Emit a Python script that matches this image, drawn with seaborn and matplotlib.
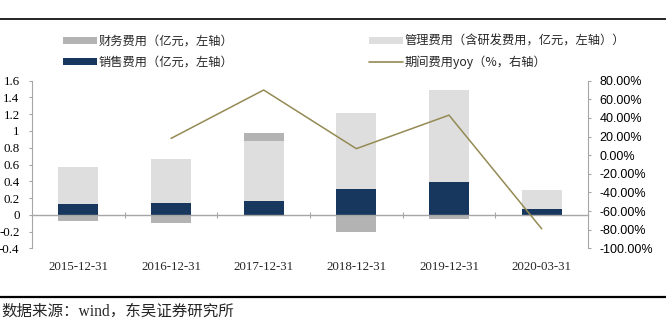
import numpy as np
import matplotlib
matplotlib.use('Agg')
import matplotlib.pyplot as plt
import seaborn as sns
from matplotlib.lines import Line2D
from matplotlib.patches import Patch
from matplotlib.ticker import FuncFormatter

# ---------------- data ----------------
categories = ['2015-12-31', '2016-12-31', '2017-12-31', '2018-12-31', '2019-12-31', '2020-03-31']
sales = [0.13, 0.14, 0.17, 0.31, 0.39, 0.065]          # 销售费用
admin = [0.44, 0.53, 0.71, 0.91, 1.10, 0.235]          # 管理费用（含研发）
finance = [-0.08, -0.10, 0.09, -0.20, -0.05, -0.02]    # 财务费用
yoy = [np.nan, 18.0, 70.0, 7.0, 43.0, -79.0]           # 期间费用yoy (%)
left_ticks = [-0.4, -0.2, 0.0, 0.2, 0.4, 0.6, 0.8, 1.0, 1.2, 1.4, 1.6]
right_ticks = [-100, -80, -60, -40, -20, 0, 20, 40, 60, 80]
legend_labels = ['财务费用（亿元，左轴）', '销售费用（亿元，左轴）',
                 '管理费用（含研发费用，亿元，左轴））', '期间费用yoy（%，右轴）']
source_text = '数据来源：wind，东吴证券研究所'

# ---------------- style ----------------
C_FIN = '#b3b3b3'
C_ADM = '#dedede'
C_SAL = '#17375e'
C_LINE = '#948a54'
C_AX = '#a6a6a6'

sns.set_style('white')
plt.rcParams['font.family'] = ['Liberation Serif', 'Noto Sans CJK SC', 'DejaVu Sans']

W, H = 666, 326
fig = plt.figure(figsize=(W / 100, H / 100), dpi=100)
ax = fig.add_axes([32 / W, (H - 248.3) / H, 556 / W, 167.6 / H])

sales_a = np.array(sales)
admin_a = np.array(admin)
fin_a = np.array(finance)
pos_top = sales_a + admin_a + np.clip(fin_a, 0, None)
neg_fin = np.clip(fin_a, None, 0)

bw = 0.43
kw = dict(width=bw, saturation=1, linewidth=0, ax=ax)
sns.barplot(x=categories, y=pos_top, color=C_FIN, **kw)
sns.barplot(x=categories, y=sales_a + admin_a, color=C_ADM, **kw)
sns.barplot(x=categories, y=sales_a, color=C_SAL, **kw)
sns.barplot(x=categories, y=neg_fin, color=C_FIN, **kw)

n = len(categories)
ax.set_xlim(-0.5, n - 0.5)
ax.set_ylim(-0.4, 1.6)
ax.set_yticks(left_ticks)
ax.yaxis.set_major_formatter(FuncFormatter(lambda v, p: f'{round(v, 1):g}'))
ax.tick_params(axis='y', which='both', left=True, length=2.5, width=0.8, color=C_AX,
               pad=6.5, labelsize=9.3, labelcolor='black')
for lab in ax.get_yticklabels():
    lab.set_family('Liberation Serif')

# zero line with category boundary ticks
ax.spines['bottom'].set_position(('data', 0))
ax.spines['bottom'].set_color(C_AX)
ax.spines['bottom'].set_linewidth(1.0)
ax.set_xticks(np.arange(n - 1) + 0.5)
ax.set_xticklabels([])
ax.tick_params(axis='x', bottom=True, direction='inout', length=5, width=0.8, color=C_AX)
ax.spines['left'].set_color(C_AX)
ax.spines['left'].set_linewidth(0.8)
ax.spines['top'].set_visible(False)
ax.spines['right'].set_visible(False)
ax.set_xlabel('')
ax.set_ylabel('')

sec = ax.secondary_xaxis('bottom')
sec.set_xticks(np.arange(n), labels=categories)
sec.tick_params(axis='x', length=0, pad=9, labelsize=9.3)
for lab in sec.get_xticklabels():
    lab.set_family('Liberation Serif')
sec.spines['bottom'].set_visible(False)

# right axis: yoy line
ax2 = ax.twinx()
sns.lineplot(x=np.arange(n), y=yoy, color=C_LINE, linewidth=1.1, ax=ax2)
ax2.set_xlim(-0.5, n - 0.5)
ax2.set_ylim(-100, 80)
ax2.set_yticks(right_ticks)
ax2.yaxis.set_major_formatter(FuncFormatter(lambda v, p: f'{v:.2f}%'))
ax2.tick_params(axis='y', right=True, length=2.5, width=0.8, color=C_AX, pad=6,
                labelsize=9, labelcolor='black')
for lab in ax2.get_yticklabels():
    lab.set_family('Liberation Sans')
for s in ['top', 'left', 'bottom']:
    ax2.spines[s].set_visible(False)
ax2.spines['right'].set_color(C_AX)
ax2.spines['right'].set_linewidth(0.8)
ax2.set_xlabel('')
ax2.set_ylabel('')

# legends
h_fin = Patch(facecolor=C_FIN, edgecolor='none')
h_sal = Patch(facecolor=C_SAL, edgecolor='none')
h_adm = Patch(facecolor=C_ADM, edgecolor='none')
h_line = Line2D([], [], color=C_LINE, linewidth=1.2)
leg_kw = dict(loc='upper left', frameon=False, handlelength=2.8, handleheight=0.5,
              handletextpad=0.1, labelspacing=0.68, borderpad=0, borderaxespad=0,
              prop={'family': ['Noto Sans CJK SC', 'DejaVu Sans'], 'size': 8.8})
leg1 = fig.legend(handles=[h_fin, h_sal], labels=legend_labels[:2],
                  bbox_to_anchor=(63 / W, 1 - 34.5 / H), **leg_kw)
leg2 = fig.legend(handles=[h_adm, h_line], labels=legend_labels[2:],
                  bbox_to_anchor=(369 / W, 1 - 34.5 / H), **leg_kw)

# header/footer rules and source
fig.add_artist(Line2D([0, 1], [1 - 19 / H] * 2, transform=fig.transFigure,
                      color='black', linewidth=1.2))
fig.add_artist(Line2D([0, 1], [1 - 297 / H] * 2, transform=fig.transFigure,
                      color='black', linewidth=1.6))
fig.text(1 / W, 1 - 312 / H, source_text, ha='left', va='center', fontsize=11.2,
         family=['Liberation Serif', 'Noto Sans CJK SC'])

fig.savefig('out.png', dpi=100)
